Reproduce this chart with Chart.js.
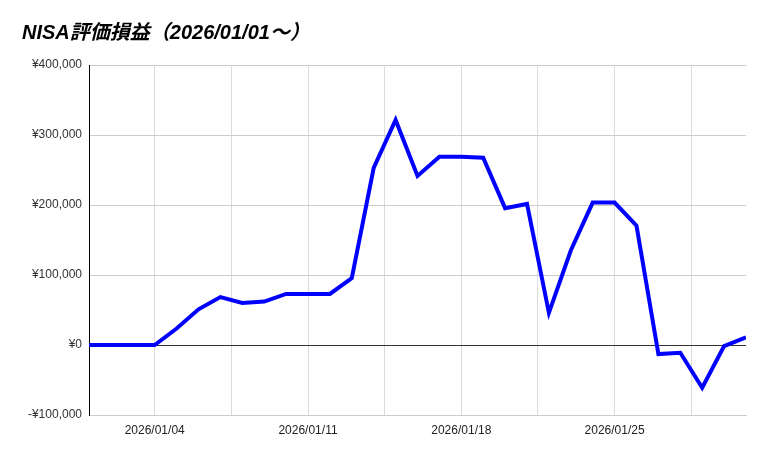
<!DOCTYPE html>
<html>
<head>
<meta charset="utf-8">
<script src="https://cdn.jsdelivr.net/npm/chart.js@4/dist/chart.umd.min.js"></script>
<style>
  html, body { margin: 0; padding: 0; background: #fff; }
  #wrap { width: 769px; height: 457px; }
</style>
</head>
<body>
<div id="wrap"><canvas id="myChart" width="769" height="457"></canvas></div>
<script>
const chartTitle = "NISA評価損益（2026/01/01～）";

const dates = [
  "2026/01/01", "2026/01/02", "2026/01/03", "2026/01/04", "2026/01/05", "2026/01/06", "2026/01/07",
  "2026/01/08", "2026/01/09", "2026/01/10", "2026/01/11", "2026/01/12", "2026/01/13", "2026/01/14",
  "2026/01/15", "2026/01/16", "2026/01/17", "2026/01/18", "2026/01/19", "2026/01/20", "2026/01/21",
  "2026/01/22", "2026/01/23", "2026/01/24", "2026/01/25", "2026/01/26", "2026/01/27", "2026/01/28",
  "2026/01/29", "2026/01/30", "2026/01/31"
];

const profit = [
  0, 0, 0, 0, 23600, 51000, 68500,
  60000, 62000, 73000, 73000, 73000, 95500, 253000,
  321500, 241500, 269000, 269000, 267500, 195500, 201500,
  46000, 135000, 203500, 203500, 170500, -13000, -11000,
  -61000, -1500, 11000
];

// gridline positions (days from 01/01); labels only on whole days
const xTicks = [3, 6.5, 10, 13.5, 17, 20.5, 24, 27.5];
const yTicks = [-100000, 0, 100000, 200000, 300000, 400000];

const yen = v => (v < 0 ? "-¥" : "¥") + Math.abs(v).toLocaleString("en-US");

const titlePlugin = {
  id: "sheetTitle",
  afterDraw(chart) {
    const ctx = chart.ctx;
    ctx.save();
    ctx.font = "bold italic 20px 'Liberation Sans', 'Noto Sans CJK JP', sans-serif";
    ctx.fillStyle = "#000";
    ctx.textBaseline = "middle";
    ctx.fillText(chartTitle, 22, 33);
    ctx.restore();
  }
};

new Chart(document.getElementById("myChart"), {
  type: "line",
  data: {
    datasets: [
      {
        label: "評価損益",
        data: profit.map((v, i) => ({ x: i, y: v })),
        borderColor: "#0000ff",
        borderWidth: 4,
        pointRadius: 0,
        tension: 0,
        fill: false
      }
    ]
  },
  plugins: [titlePlugin],
  options: {
    responsive: false,
    animation: false,
    layout: { padding: { top: 65, right: 23, left: 0, bottom: 0 } },
    plugins: { legend: { display: false }, tooltip: { enabled: false } },
    scales: {
      x: {
        type: "linear",
        min: 0,
        max: dates.length - 1,
        afterBuildTicks: scale => { scale.ticks = xTicks.map(v => ({ value: v })); },
        afterFit: scale => { scale.height = 42; },
        ticks: {
          autoSkip: false,
          maxRotation: 0,
          padding: 8,
          color: "#222",
          font: { family: "'Liberation Sans', sans-serif", size: 12 },
          callback: v => Number.isInteger(v) ? dates[v] : ""
        },
        grid: { color: "#dcdcdc", drawTicks: false },
        border: { color: "#cccccc", width: 1 }
      },
      y: {
        min: -100000,
        max: 400000,
        afterBuildTicks: scale => { scale.ticks = yTicks.map(v => ({ value: v })); },
        afterFit: scale => { scale.width = 89; },
        ticks: {
          padding: 7,
          color: "#333",
          font: { family: "'Liberation Sans', sans-serif", size: 12 },
          callback: v => yen(v)
        },
        grid: {
          drawTicks: false,
          color: ctx => ctx.tick && ctx.tick.value === 0 ? "#333333" : "#cccccc"
        },
        border: { color: "#000", width: 1 }
      }
    }
  }
});
</script>
</body>
</html>
